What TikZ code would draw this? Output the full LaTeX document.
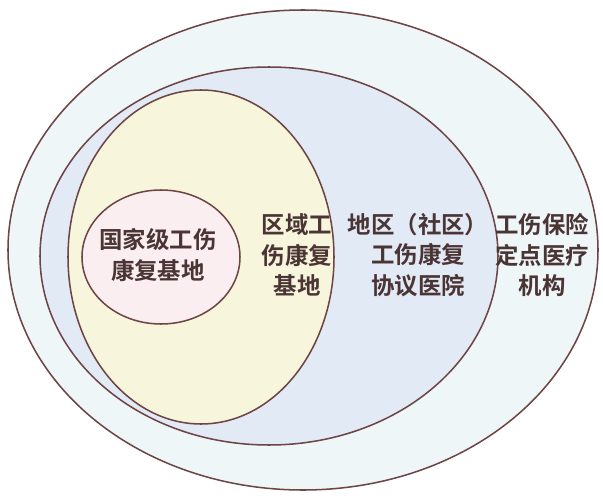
\documentclass[tikz,border=0pt]{standalone}
\usepackage{fontspec}
\newfontfamily\cjk{Noto Sans CJK SC Bold}
\definecolor{rim}{HTML}{6E4444}
\definecolor{txt}{HTML}{4A3434}
\definecolor{fillA}{HTML}{EEF6F8}
\definecolor{fillB}{HTML}{E2EAF6}
\definecolor{fillC}{HTML}{F7F6DC}
\definecolor{fillD}{HTML}{FBEEF0}
\tikzset{
	ring/.style={draw=rim, line width=1.3pt},
	lbl/.style={text=txt, align=center, font=\cjk\fontsize{20}{26}\selectfont}
}
\begin{document}
\begin{tikzpicture}[x=0.03cm,y=-0.03cm]
	\useasboundingbox (0,0) rectangle (603,500);
	%Rings from outside to inside
	\draw[ring, fill=fillA] (303,250) ellipse [x radius=295, y radius=240];
	\draw[ring, fill=fillB] (269,256) ellipse [x radius=229, y radius=189];
	\draw[ring, fill=fillC] (201,257) ellipse [x radius=133, y radius=167];
	\draw[ring, fill=fillD] (161,257) ellipse [x radius=79, y radius=67];
	%Labels
	\node[lbl] (national) at (158,255) {国家级工伤\\康复基地};
	\node[lbl] (region) at (297,255) {区域工\\伤康复\\基地};
	\node[lbl] (local) at (418,255) {地区（社区）\\工伤康复\\协议医院};
	\node[lbl] (insured) at (542,255) {工伤保险\\定点医疗\\机构};
\end{tikzpicture}
\end{document}
